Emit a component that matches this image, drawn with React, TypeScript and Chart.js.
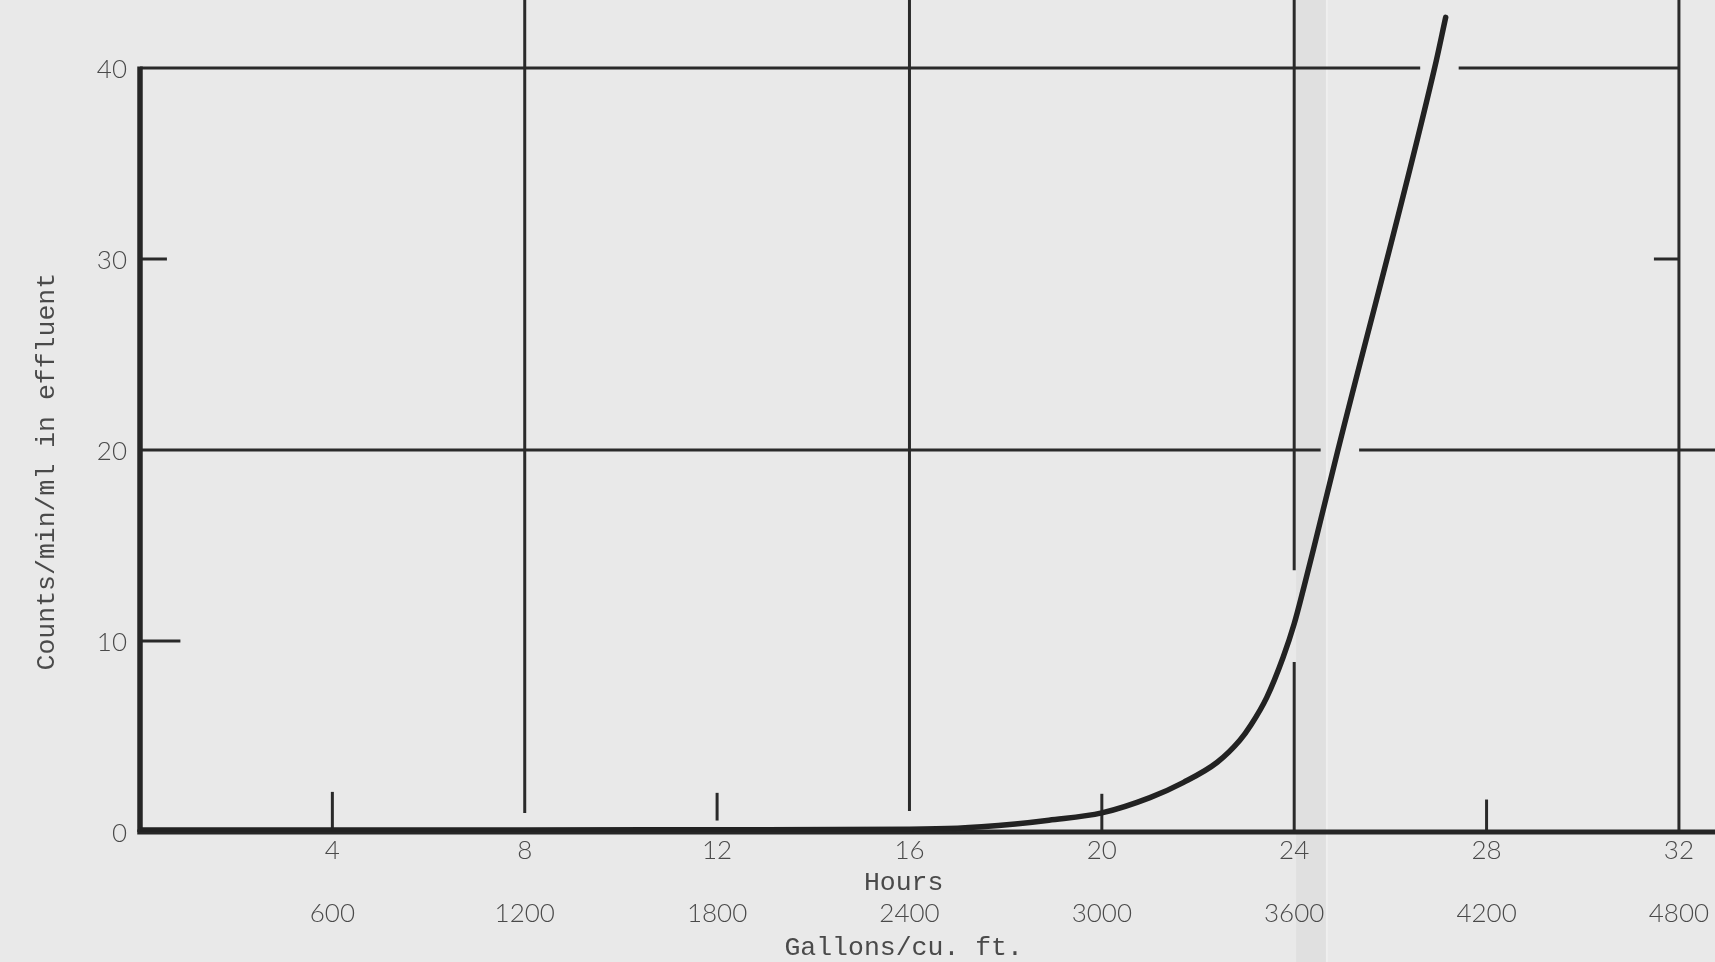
import React, { useEffect, useRef } from "react";
import { Chart, registerables } from "chart.js";

Chart.register(...registerables);

// ---- data ----
const hours = [0, 4, 8, 12, 16, 17, 17.5, 18.2, 18.9, 20, 21, 21.7, 22.4, 22.87, 23.1, 23.43, 23.77, 24, 24.2, 24.4, 24.9, 26.92, 27.15];
const counts = [0.1, 0.1, 0.1, 0.12, 0.15, 0.2, 0.27, 0.42, 0.62, 1.0, 1.8, 2.6, 3.65, 4.8, 5.6, 7.05, 9.15, 10.9, 12.8, 14.8, 19.9, 40, 42.65];

const hourTicks = [4, 8, 12, 16, 20, 24, 28, 32];
const gallonTicks = [600, 1200, 1800, 2400, 3000, 3600, 4200, 4800];
const countTicks = [0, 10, 20, 30, 40];

const GALLONS_PER_HOUR = 150;
const X_MAX = 32.75;
const Y_MAX = 43.56;

// ---- hand-ruled grid of the typed sheet ----
const vGridLines = [
  { hour: 8, from: 1.0, gaps: [] as number[][] },
  { hour: 16, from: 1.1, gaps: [] as number[][] },
  { hour: 24, from: 0, gaps: [[8.9, 13.7]] },
  { hour: 32, from: 0, gaps: [] as number[][] },
];
const hGridLines = [
  { count: 20, to: X_MAX, gaps: [[24.55, 25.35]] },
  { count: 40, to: 32, gaps: [[26.62, 27.42]] },
];
const minorHourTicks = [
  { hour: 4, from: 0, to: 2.1 },
  { hour: 12, from: 0.6, to: 2.05 },
  { hour: 20, from: 0, to: 2.0 },
  { hour: 28, from: 0, to: 1.7 },
];
const minorCountTicks = [
  { count: 10, from: 0, to: 0.84 },
  { count: 30, from: 0, to: 0.56 },
  { count: 30, from: 31.48, to: 32 },
];
const FOLD = [24.04, 24.66];

const INK = "#2a2a2a";
const TEXT = "#4a4a4a";
const PAPER = "#e9e9e9";
const MONO = "'Liberation Mono', 'DejaVu Sans Mono', monospace";
const DIGITS = "Lato, 'Noto Sans', sans-serif";

function segmentsWithGaps(from: number, to: number, gaps: number[][]) {
  const segs: number[][] = [];
  let start = from;
  for (const [g0, g1] of gaps) {
    segs.push([start, g0]);
    start = g1;
  }
  segs.push([start, to]);
  return segs;
}

function noScalePadding(s: any) {
  s.paddingTop = 0;
  s.paddingBottom = 0;
  s.paddingLeft = 0;
  s.paddingRight = 0;
}

const paperPlugin = {
  id: "paperSheet",
  beforeDraw(chart: any) {
    const { ctx, width, height } = chart;
    const x = chart.scales.x;
    ctx.save();
    ctx.fillStyle = PAPER;
    ctx.fillRect(0, 0, width, height);
    const f0 = x.getPixelForValue(FOLD[0]);
    const f1 = x.getPixelForValue(FOLD[1]);
    ctx.fillStyle = "#e0e0e0";
    ctx.fillRect(f0, 0, f1 - f0, height);
    ctx.fillStyle = "#efefef";
    ctx.fillRect(f1, 0, 2, height);
    ctx.restore();
  },
  beforeDatasetsDraw(chart: any) {
    const { ctx, chartArea } = chart;
    const x = chart.scales.x;
    const y = chart.scales.y;
    const line = (x0: number, y0: number, x1: number, y1: number, w: number) => {
      ctx.lineWidth = w;
      ctx.beginPath();
      ctx.moveTo(x0, y0);
      ctx.lineTo(x1, y1);
      ctx.stroke();
    };
    ctx.save();
    ctx.strokeStyle = INK;
    ctx.lineCap = "butt";

    for (const v of vGridLines) {
      const px = x.getPixelForValue(v.hour);
      for (const [a, b] of segmentsWithGaps(v.from, Y_MAX, v.gaps)) {
        line(px, y.getPixelForValue(a), px, b >= Y_MAX ? 0 : y.getPixelForValue(b), 3);
      }
    }
    for (const h of hGridLines) {
      const py = y.getPixelForValue(h.count);
      for (const [a, b] of segmentsWithGaps(0, h.to, h.gaps)) {
        line(x.getPixelForValue(a), py, b >= X_MAX ? chartArea.right : x.getPixelForValue(b), py, 3);
      }
    }
    for (const t of minorHourTicks) {
      const px = x.getPixelForValue(t.hour);
      line(px, y.getPixelForValue(t.from), px, y.getPixelForValue(t.to), 3);
    }
    for (const t of minorCountTicks) {
      const py = y.getPixelForValue(t.count);
      line(x.getPixelForValue(t.from), py, x.getPixelForValue(t.to), py, 3);
    }
    ctx.strokeStyle = "#262626";
    const x0 = x.getPixelForValue(0);
    const y0 = y.getPixelForValue(0);
    line(x0, y0, x0, y.getPixelForValue(40) - 1.5, 5.5);
    line(x0 - 2.75, y0, chartArea.right, y0, 5);
    ctx.restore();
  },
};

export default function App() {
  const ref = useRef<HTMLCanvasElement | null>(null);

  useEffect(() => {
    document.body.style.margin = "0";
    const canvas = ref.current;
    if (!canvas) return;
    const digitFont = { family: DIGITS, size: 26, weight: "300" };
    const monoFont = { family: MONO, size: 26.5 };
    const chart = new Chart(canvas, {
      type: "line",
      data: {
        datasets: [
          {
            label: "Counts/min/ml in effluent",
            data: hours.map((h, i) => ({ x: h, y: counts[i] })),
            borderColor: "#222222",
            borderWidth: 5.5,
            pointRadius: 0,
            fill: false,
            cubicInterpolationMode: "monotone",
            borderCapStyle: "round",
            borderJoinStyle: "round",
          },
        ],
      },
      options: {
        animation: false,
        responsive: false,
        maintainAspectRatio: false,
        devicePixelRatio: 1,
        layout: { autoPadding: false, padding: 0 },
        plugins: { legend: { display: false }, tooltip: { enabled: false } },
        events: [],
        scales: {
          x: {
            type: "linear",
            position: "bottom",
            weight: 0,
            min: 0,
            max: X_MAX,
            grid: { display: false },
            border: { display: false },
            afterBuildTicks: (s: any) => {
              s.ticks = hourTicks.map((v) => ({ value: v }));
            },
            afterFit: (s: any) => {
              s.height = 67;
              noScalePadding(s);
            },
            ticks: {
              autoSkip: false,
              maxRotation: 0,
              padding: -5,
              color: TEXT,
              font: digitFont,
              callback: (v: any) => String(v),
            },
            title: {
              display: true,
              text: "Hours   ",
              color: TEXT,
              font: monoFont,
              padding: { top: 0, bottom: 0 },
            },
          },
          x2: {
            type: "linear",
            position: "bottom",
            axis: "x",
            weight: 1,
            min: 0,
            max: X_MAX * GALLONS_PER_HOUR,
            grid: { display: false },
            border: { display: false },
            afterBuildTicks: (s: any) => {
              s.ticks = gallonTicks.map((v) => ({ value: v }));
            },
            afterFit: (s: any) => {
              s.height = 63;
              noScalePadding(s);
            },
            ticks: {
              autoSkip: false,
              maxRotation: 0,
              padding: -9,
              color: TEXT,
              font: digitFont,
              callback: (v: any) => String(v),
            },
            title: {
              display: true,
              text: "Gallons/cu. ft.   ",
              color: TEXT,
              font: monoFont,
              padding: { top: 0, bottom: -2 },
            },
          },
          y: {
            type: "linear",
            position: "left",
            min: 0,
            max: Y_MAX,
            grid: { display: false },
            border: { display: false },
            afterBuildTicks: (s: any) => {
              s.ticks = countTicks.map((v) => ({ value: v }));
            },
            afterFit: (s: any) => {
              s.width = 140;
              noScalePadding(s);
            },
            ticks: {
              padding: 5,
              labelOffset: 2,
              color: TEXT,
              font: digitFont,
              callback: (v: any) => String(v),
            },
            title: {
              display: true,
              text: "Counts/min/ml in effluent       ",
              color: TEXT,
              font: monoFont,
              padding: { top: 31, bottom: 0 },
            },
          },
        },
      },
      plugins: [paperPlugin],
    } as any);
    return () => chart.destroy();
  }, []);

  return (
    <div style={{ position: "absolute", left: 0, top: 0, width: 1715, height: 962 }}>
      <canvas ref={ref} width={1715} height={962} style={{ display: "block" }} />
    </div>
  );
}
